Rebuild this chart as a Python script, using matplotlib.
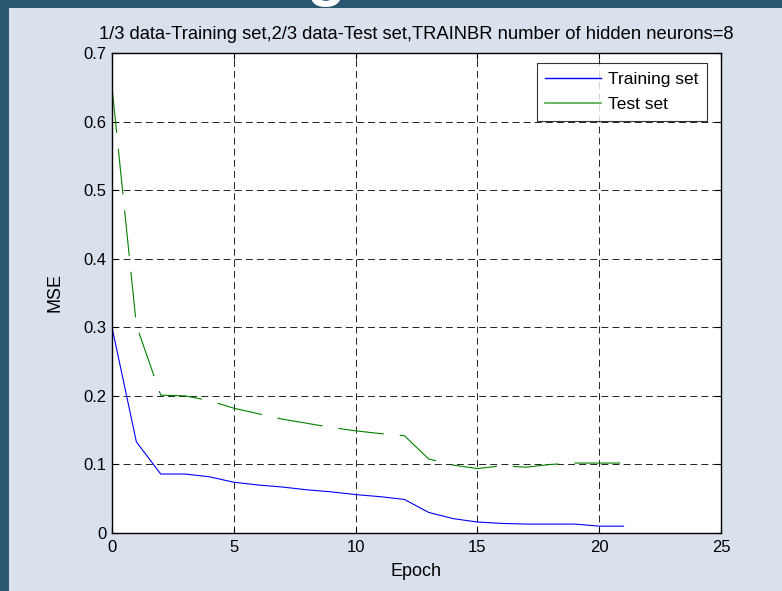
import numpy as np
import matplotlib
matplotlib.use('Agg')
import matplotlib.pyplot as plt
from matplotlib.patches import Rectangle

# valori
epoch = np.arange(0, 22)
mse_train = [0.300, 0.133, 0.086, 0.086, 0.082, 0.074, 0.070, 0.067, 0.063, 0.060, 0.056,
             0.053, 0.049, 0.030, 0.021, 0.016, 0.014, 0.013, 0.013, 0.013, 0.010, 0.010]
mse_test = [0.650, 0.303, 0.201, 0.200, 0.193, 0.182, 0.174, 0.166, 0.160, 0.154, 0.149,
            0.145, 0.142, 0.108, 0.099, 0.094, 0.098, 0.096, 0.100, 0.102, 0.102, 0.102]
xticks = [0, 5, 10, 15, 20, 25]
yticks = [0, 0.1, 0.2, 0.3, 0.4, 0.5, 0.6, 0.7]
titlu = '1/3 data-Training set,2/3 data-Test set,TRAINBR number of hidden neurons=8'

plt.rcParams['font.family'] = ['Liberation Sans', 'DejaVu Sans']
plt.rcParams['lines.scale_dashes'] = False

fig = plt.figure(figsize=(7.82, 5.91), dpi=100)
fig.patch.set_facecolor('#2a5670')

# litera "g" din titlul slide-ului, taiata de panou
fig.text(326 / 782, 1 - 7 / 591, 'g', color='white', fontsize=46, fontweight='bold',
         ha='center', va='bottom', zorder=-3)
fig.patches.append(Rectangle((9 / 782, 0), 1, 1 - 8 / 591, transform=fig.transFigure,
                             facecolor='#d9e1ec', edgecolor='none', zorder=-2))

ax = fig.add_axes([112 / 782, 58 / 591, 609 / 782, 480 / 591])
ax.set_facecolor('white')

ax.plot(epoch, mse_train, color='blue', lw=0.8, label='Training set')
ax.plot(epoch, mse_test, color='green', lw=0.8, linestyle=(0, (33, 11.5)), label='Test set')

ax.set_xlim(0, 25)
ax.set_ylim(0, 0.7)
ax.set_xticks(xticks)
ax.set_yticks(yticks)
ax.set_xticklabels([str(t) for t in xticks])
ax.set_yticklabels(['0'] + ['%.1f' % t for t in yticks[1:]])
ax.tick_params(direction='in', top=True, right=True, length=4, width=0.8,
               labelsize=12, pad=5, colors='black')
ax.tick_params(axis='y', pad=4)
ax.grid(True, color='black', linestyle=(0, (5, 3)), lw=0.6)
for s in ax.spines.values():
    s.set_linewidth(1.0)

ax.set_xlabel('Epoch', fontsize=13, labelpad=6)
ax.set_ylabel('MSE', fontsize=13, labelpad=14)
ax.set_title(titlu, fontsize=13.2, pad=10)

leg = ax.legend(loc='upper right', bbox_to_anchor=(707 / 782, 1 - 63 / 591),
                bbox_transform=fig.transFigure, fontsize=12.5, frameon=True, fancybox=False,
                handlelength=3.2, handletextpad=0.4, borderaxespad=0, labelspacing=0.6,
                borderpad=0.5)
leg.get_frame().set_edgecolor('black')
leg.get_frame().set_linewidth(0.8)
leg.get_lines()[0].set_linewidth(1.0)
leg.get_lines()[1].set_linestyle('-')
leg.get_lines()[1].set_linewidth(1.2)
leg.get_lines()[1].set_color('#4fa84f')

fig.savefig('out.png', dpi=100, facecolor=fig.get_facecolor())
